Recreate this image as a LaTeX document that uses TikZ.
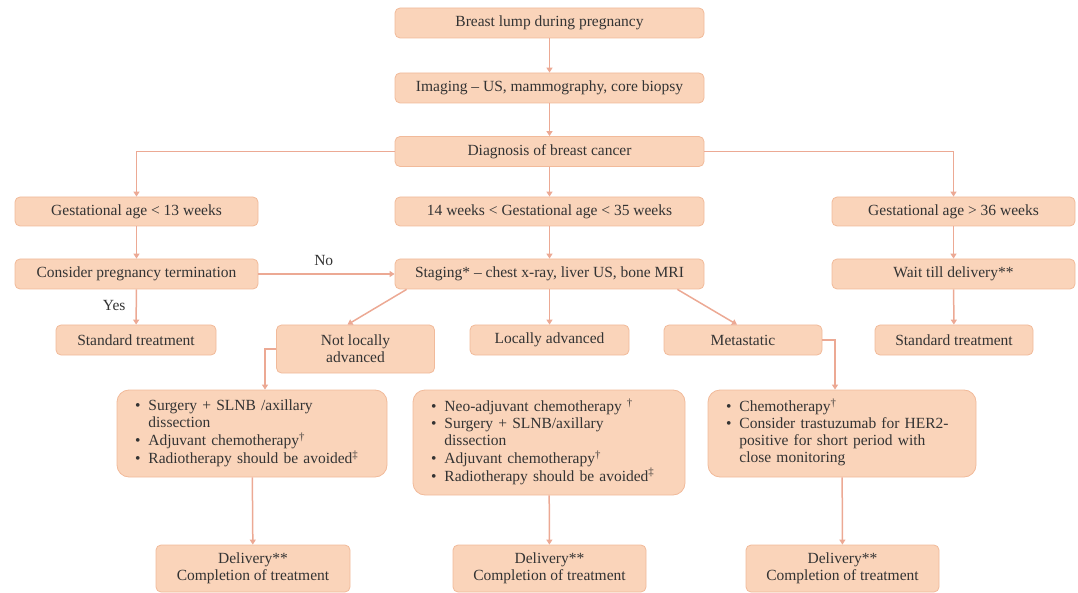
\documentclass[tikz,border=0pt]{standalone}
\usepackage{fontspec}
\setmainfont{Liberation Serif}
\usetikzlibrary{arrows.meta,calc}
\definecolor{fillc}{HTML}{FAD4BA}
\definecolor{bordc}{HTML}{F1BA9A}
\definecolor{linec}{HTML}{ECA994}
\definecolor{txtc}{HTML}{333333}
\newcommand{\bl}{\textbullet}
\newcommand{\sdag}{\textsuperscript{\dag}}
\newcommand{\sddag}{\textsuperscript{\ddag}}
\tikzset{
  box/.style={draw=bordc, line width=0.8pt, fill=fillc, rounded corners=5pt, text=txtc,
    inner sep=0pt, align=center, font=\fontsize{15.5}{17}\selectfont},
  bbox/.style={draw=bordc, line width=0.8pt, fill=fillc, rounded corners=12pt, text=txtc,
    inner xsep=18pt, inner ysep=0pt, align=left, font=\fontsize{15.5}{17}\selectfont},
  conn/.style={draw=linec, line width=1.5pt, -{Triangle[width=6pt,length=5pt]}},
  lbl/.style={text=txtc, font=\fontsize{15.5}{17}\selectfont, inner sep=0pt}
}
\begin{document}
\begin{tikzpicture}[x=1pt,y=-1pt]
\useasboundingbox (0,0) rectangle (1078,593);
% top column
\node[box, minimum width=309pt, minimum height=30pt] (lump) at (549.5,23) {Breast lump during pregnancy};
\node[box, minimum width=309pt, minimum height=30pt] (img) at (549.5,88) {Imaging -- US, mammography, core biopsy};
\node[box, minimum width=309pt, minimum height=30pt] (diag) at (549.5,151.5) {Diagnosis of breast cancer};
% gestational row
\node[box, minimum width=243pt, minimum height=29pt] (lt) at (136.5,211.5) {Gestational age {\textless} 13 weeks};
\node[box, minimum width=309pt, minimum height=29pt] (mid) at (549.5,211.5) {14 weeks {\textless} Gestational age {\textless} 35 weeks};
\node[box, minimum width=243pt, minimum height=29pt] (gt) at (953.5,211.5) {Gestational age {\textgreater} 36 weeks};
% second row
\node[box, minimum width=243pt, minimum height=30pt] (term) at (136.5,274) {Consider pregnancy termination};
\node[box, minimum width=309pt, minimum height=30pt] (stag) at (549.5,274) {Staging* -- chest x-ray, liver US, bone MRI};
\node[box, minimum width=243pt, minimum height=30pt] (wait) at (953.5,274) {Wait till delivery**};
% third row
\node[box, minimum width=160pt, minimum height=30pt] (stdL) at (136,340) {Standard treatment};
\node[box, minimum width=158pt, minimum height=48pt] (notloc) at (355.5,349) {Not locally\\advanced};
\node[box, minimum width=159pt, minimum height=30pt] (locadv) at (549.5,340) {Locally advanced};
\node[box, minimum width=158pt, minimum height=30pt] (meta) at (743,340) {Metastatic};
\node[box, minimum width=158pt, minimum height=30pt] (stdR) at (954,340) {Standard treatment};
% bullet boxes
\node[bbox, text width=234pt, minimum height=87pt] (bulL) at (252,433.5) {%
\begin{tabular}{@{}l@{\hspace{8pt}}l@{}}
\bl & Surgery + SLNB /axillary\\
    & dissection\\
\bl & Adjuvant chemotherapy\sdag\\
\bl & Radiotherapy should be avoided\sddag
\end{tabular}};
\node[bbox, text width=236pt, minimum height=105pt] (bulM) at (549,442.5) {%
\begin{tabular}{@{}l@{\hspace{8pt}}l@{}}
\bl & Neo-adjuvant chemotherapy \sdag\\
\bl & Surgery + SLNB/axillary\\
    & dissection\\
\bl & Adjuvant chemotherapy\sdag\\
\bl & Radiotherapy should be avoided\sddag
\end{tabular}};
\node[bbox, text width=232pt, minimum height=87pt] (bulR) at (842,433.5) {%
\begin{tabular}{@{}l@{\hspace{8pt}}l@{}}
\bl & Chemotherapy\sdag\\
\bl & Consider trastuzumab for HER2-\\
    & positive for short period with\\
    & close monitoring
\end{tabular}};
% delivery
\node[box, minimum width=194pt, minimum height=47pt] (delL) at (253,568.5) {Delivery**\\Completion of treatment};
\node[box, minimum width=193pt, minimum height=47pt] (delM) at (549.5,568.5) {Delivery**\\Completion of treatment};
\node[box, minimum width=193pt, minimum height=47pt] (delR) at (842.5,568.5) {Delivery**\\Completion of treatment};
% connectors
\draw[conn] (lump) -- (img);
\draw[conn] (img) -- (diag);
\draw[conn] (diag) -- (mid);
\draw[conn] (diag.west) -| (lt.north);
\draw[conn] (diag.east) -| (gt.north);
\draw[conn] (lt) -- (term);
\draw[conn] (term) -- (stdL) node[lbl, pos=0.45, left=10pt] {Yes};
\draw[conn] (term.east) -- (stag.west) node[lbl, pos=0.48, above=8pt] {No};
\draw[conn] (mid) -- (stag);
\draw[conn] (gt) -- (wait);
\draw[conn] (wait) -- (stdR);
\draw[conn] ($(stag.south west)+(12,0)$) -- ($(notloc.north)+(-8,0)$);
\draw[conn] (stag) -- (locadv);
\draw[conn] ($(stag.south east)+(-27,0)$) -- ($(meta.north)+(-6,0)$);
\draw[conn] (notloc.west) -| ($(bulL.north)+(13,0)$);
\draw[conn] (meta.east) -| ($(bulR.north)+(-7,0)$);
\draw[conn] (bulL) -- (delL);
\draw[conn] (bulM) -- (delM);
\draw[conn] (bulR) -- (delR);
\end{tikzpicture}
\end{document}
